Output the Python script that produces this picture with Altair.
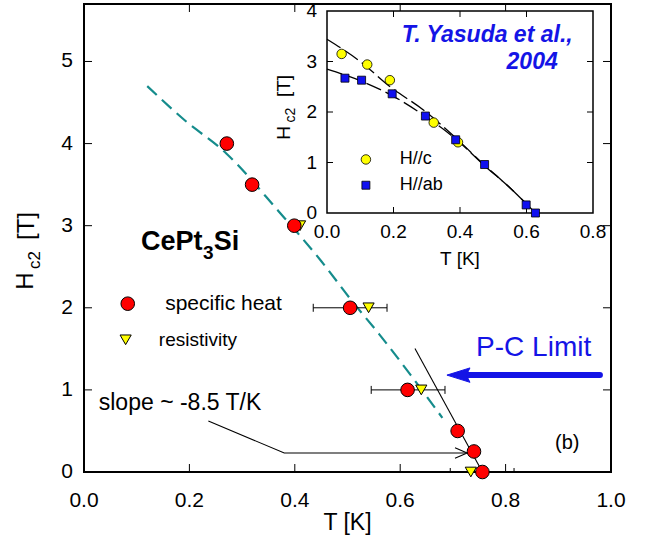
import altair as alt
import pandas as pd

FONT = "Liberation Sans"
BLUE = "#1414e6"

# ---------------- data: main panel ----------------
heat_T = [0.271, 0.319, 0.399, 0.505, 0.614, 0.709, 0.740, 0.756]
heat_H = [4.0, 3.5, 3.0, 2.0, 1.0, 0.5, 0.25, 0.0]
resist_T = [0.410, 0.540, 0.640, 0.734]
resist_H = [3.0, 2.0, 1.0, 0.0]
err_lo = [0.435, 0.545, 0.695]
err_hi = [0.575, 0.685, 0.816]
err_H = [2.0, 1.0, 0.0]
fit_T = [0.12, 0.19, 0.27, 0.37, 0.45, 0.51, 0.56, 0.62, 0.68]
fit_H = [4.70, 4.29, 3.88, 3.17, 2.57, 2.07, 1.68, 1.18, 0.66]
slope_T = [0.628, 0.756]
slope_H = [1.505, 0.0]
main_x_ticks = [0.0, 0.2, 0.4, 0.6, 0.8, 1.0]
main_y_ticks = [0, 1, 2, 3, 4, 5]

# ---------------- data: inset (Yasuda et al.) ----------------
c_T = [0.044, 0.121, 0.189, 0.321, 0.394]
c_H = [3.15, 2.94, 2.63, 1.79, 1.40]
ab_T = [0.054, 0.104, 0.196, 0.296, 0.387, 0.474, 0.599, 0.627]
ab_H = [2.67, 2.63, 2.36, 1.92, 1.45, 0.96, 0.16, 0.0]
cfit_T = [0.0, 0.10, 0.19, 0.29, 0.39, 0.47, 0.55, 0.627]
cfit_H = [3.44, 3.00, 2.50, 2.04, 1.47, 0.97, 0.50, 0.0]
abfit_T = [0.0, 0.10, 0.20, 0.29, 0.39, 0.47, 0.55, 0.627]
abfit_H = [2.85, 2.62, 2.31, 1.94, 1.45, 0.96, 0.50, 0.0]
inset_x_ticks = [0.0, 0.2, 0.4, 0.6, 0.8]
inset_y_ticks = [0, 1, 2, 3, 4]

# ---------------- layout ----------------
W, HT = 527, 468
IX0, IX1 = 243, 509      # inset x range (px inside plot)
IY0, IY1 = 209, 7        # inset y range (px inside plot)
TICK = 8
ITICK = 6

xs = alt.Scale(domain=[0, 1.0], nice=False, zero=False)
ys = alt.Scale(domain=[0, 5.7], nice=False, zero=False)
ixs = alt.Scale(domain=[0, 0.8], range=[IX0, IX1], nice=False, zero=False)
iys = alt.Scale(domain=[0, 4], range=[IY0, IY1], nice=False, zero=False)


def mX(f):
    return alt.X(f"{f}:Q", scale=xs, axis=None)


def mY(f):
    return alt.Y(f"{f}:Q", scale=ys, axis=None)


def iX(f):
    return alt.X(f"{f}:Q", scale=ixs, axis=None)


def iY(f):
    return alt.Y(f"{f}:Q", scale=iys, axis=None)


def note(text, T, H, size, scale="main", **kw):
    df = pd.DataFrame({"T": [T], "H": [H], "s": [text]})
    if scale == "main":
        enc = dict(x=mX("T"), y=mY("H"))
    else:
        enc = dict(x=iX("T"), y=iY("H"))
    style = dict(font=FONT, fontSize=size, color="black", align="left", baseline="middle")
    style.update(kw)
    return alt.Chart(df).mark_text(**style).encode(text="s:N", **enc)


def pixel_text(text, x, y, size, **kw):
    df = pd.DataFrame({"s": [text]})
    style = dict(font=FONT, fontSize=size, color="black", align="center", baseline="middle")
    style.update(kw)
    return alt.Chart(df).mark_text(**style).encode(
        x=alt.value(x), y=alt.value(y), text="s:N")


# ---------------- main panel layers ----------------
fit = alt.Chart(pd.DataFrame({"T": fit_T, "H": fit_H})).mark_line(
    color="#158c8c", strokeWidth=2.2, strokeDash=[13, 7], interpolate="monotone"
).encode(x=mX("T"), y=mY("H"))

slope = alt.Chart(pd.DataFrame({"T": slope_T, "H": slope_H})).mark_line(
    color="black", strokeWidth=1.1
).encode(x=mX("T"), y=mY("H"))

err_df = pd.DataFrame({"lo": err_lo, "hi": err_hi, "H": err_H})
err_rule = alt.Chart(err_df).mark_rule(color="black", strokeWidth=1).encode(
    x=mX("lo"), x2="hi:Q", y=mY("H"))
caps_df = pd.DataFrame({"T": err_lo + err_hi, "H": err_H + err_H})
err_caps = alt.Chart(caps_df).mark_point(
    shape="M0,-1L0,1", size=64, stroke="black", strokeWidth=1, filled=False,
    opacity=1, clip=True
).encode(x=mX("T"), y=mY("H"))

# annotation arrow "slope ~ -8.5 T/K"
arr_df = pd.DataFrame({
    "T": [0.236, 0.380, 0.726, 0.704, 0.727, 0.704],
    "H": [0.62, 0.232, 0.232, 0.296, 0.232, 0.168],
    "g": ["a", "a", "a", "b", "b", "b"],
    "i": [0, 1, 2, 0, 1, 2],
})
arrow = alt.Chart(arr_df).mark_line(color="black", strokeWidth=1.1).encode(
    x=mX("T"), y=mY("H"), detail="g:N", order="i:Q")

# P-C limit arrow
pc_shaft = alt.Chart(pd.DataFrame({"T": [0.979], "T2": [0.715], "H": [1.18]})).mark_rule(
    color=BLUE, strokeWidth=6, strokeCap="round"
).encode(x=mX("T"), x2="T2:Q", y=mY("H"))
pc_head = alt.Chart(pd.DataFrame({"T": [0.716], "H": [1.18]})).mark_point(
    shape="M-1,0L0.6,-0.5L0.35,0L0.6,0.5Z", size=830, filled=True, fill=BLUE,
    stroke=BLUE, strokeWidth=1, opacity=1
).encode(x=mX("T"), y=mY("H"))

heat = alt.Chart(pd.DataFrame({"T": heat_T, "H": heat_H})).mark_point(
    shape="circle", size=185, filled=True, fill="#ff0000", stroke="black",
    strokeWidth=1, opacity=1
).encode(x=mX("T"), y=mY("H"))
resist = alt.Chart(pd.DataFrame({"T": resist_T, "H": resist_H})).mark_point(
    shape="triangle-down", size=125, filled=True, fill="#ffff00", stroke="black",
    strokeWidth=1, opacity=1
).encode(x=mX("T"), y=mY("H"))

# legend symbols (main)
leg_heat = alt.Chart(pd.DataFrame({"T": [0.083], "H": [2.05]})).mark_point(
    shape="circle", size=185, filled=True, fill="#ff0000", stroke="black",
    strokeWidth=1, opacity=1).encode(x=mX("T"), y=mY("H"))
leg_res = alt.Chart(pd.DataFrame({"T": [0.079], "H": [1.61]})).mark_point(
    shape="triangle-down", size=125, filled=True, fill="#ffff00", stroke="black",
    strokeWidth=1, opacity=1).encode(x=mX("T"), y=mY("H"))

main_notes = [
    note("CePt", 0.108, 2.70, 27, fontWeight="bold", baseline="alphabetic"),
    note("3", 0.226, 2.60, 19, fontWeight="bold", baseline="alphabetic"),
    note("Si", 0.246, 2.70, 27, fontWeight="bold", baseline="alphabetic"),
    note("specific heat", 0.154, 2.05, 21),
    note("resistivity", 0.142, 1.61, 19),
    note("slope ~ -8.5 T/K", 0.028, 0.84, 23),
    note("(b)", 0.917, 0.35, 20, align="center"),
    note("P-C Limit", 0.744, 1.51, 28, color=BLUE),
    # axis titles
    pixel_text("H", -58, 277, 24, angle=270),
    pixel_text("c2", -49, 256, 17, angle=270),
    pixel_text("[T]", -57, 222, 24, angle=270),
    pixel_text("T [K]", W / 2, 519, 23),
]

# tick labels
main_labels = [
    alt.Chart(pd.DataFrame({"v": main_x_ticks})).mark_text(
        font=FONT, fontSize=21, color="black", align="center", baseline="alphabetic"
    ).encode(x=mX("v"), y=alt.value(HT + 34.5), text=alt.Text("v:Q", format=".1f")),
    alt.Chart(pd.DataFrame({"v": main_y_ticks})).mark_text(
        font=FONT, fontSize=21, color="black", align="right", baseline="middle"
    ).encode(y=mY("v"), x=alt.value(-11), text=alt.Text("v:Q", format="d")),
]

# inward ticks on four sides of the main frame
mxt = pd.DataFrame({"v": main_x_ticks[1:-1]})
myt = pd.DataFrame({"v": main_y_ticks[1:]})
main_ticks = [
    alt.Chart(mxt).mark_rule(color="black", strokeWidth=1).encode(
        x=mX("v"), y=alt.value(HT), y2=alt.value(HT - TICK)),
    alt.Chart(mxt).mark_rule(color="black", strokeWidth=1).encode(
        x=mX("v"), y=alt.value(0), y2=alt.value(TICK)),
    alt.Chart(myt).mark_rule(color="black", strokeWidth=1).encode(
        y=mY("v"), x=alt.value(0), x2=alt.value(TICK)),
    alt.Chart(myt).mark_rule(color="black", strokeWidth=1).encode(
        y=mY("v"), x=alt.value(W - TICK), x2=alt.value(W)),
]

main = alt.layer(fit, *main_ticks, slope, err_rule, err_caps, arrow, pc_shaft, pc_head,
                 resist, heat, leg_res, leg_heat, *main_notes, *main_labels)

# ---------------- inset layers ----------------
box = alt.Chart(pd.DataFrame({"x0": [inset_x_ticks[0]], "x1": [inset_x_ticks[-1]],
                              "y0": [inset_y_ticks[0]], "y1": [inset_y_ticks[-1]]})).mark_rect(
    fill="white", stroke="black", strokeWidth=1.5
).encode(x=iX("x0"), x2="x1:Q", y=iY("y0"), y2="y1:Q")

ixt = pd.DataFrame({"v": inset_x_ticks[1:-1]})
iyt = pd.DataFrame({"v": inset_y_ticks[1:-1]})
inset_ticks = [
    alt.Chart(ixt).mark_rule(color="black", strokeWidth=1).encode(
        x=iX("v"), y=alt.value(IY0), y2=alt.value(IY0 - ITICK)),
    alt.Chart(ixt).mark_rule(color="black", strokeWidth=1).encode(
        x=iX("v"), y=alt.value(IY1), y2=alt.value(IY1 + ITICK)),
    alt.Chart(iyt).mark_rule(color="black", strokeWidth=1).encode(
        y=iY("v"), x=alt.value(IX0), x2=alt.value(IX0 + ITICK)),
    alt.Chart(iyt).mark_rule(color="black", strokeWidth=1).encode(
        y=iY("v"), x=alt.value(IX1 - ITICK), x2=alt.value(IX1)),
]

inset_labels = [
    alt.Chart(pd.DataFrame({"v": inset_x_ticks})).mark_text(
        font=FONT, fontSize=19, color="black", align="center", baseline="alphabetic"
    ).encode(x=iX("v"), y=alt.value(IY0 + 25), text=alt.Text("v:Q", format=".1f")),
    alt.Chart(pd.DataFrame({"v": inset_y_ticks})).mark_text(
        font=FONT, fontSize=19, color="black", align="right", baseline="middle"
    ).encode(y=iY("v"), x=alt.value(IX0 - 10), text=alt.Text("v:Q", format="d")),
]

cfit = alt.Chart(pd.DataFrame({"T": cfit_T, "H": cfit_H})).mark_line(
    color="black", strokeWidth=1.3, strokeDash=[16, 5], interpolate="monotone"
).encode(x=iX("T"), y=iY("H"))
abfit = alt.Chart(pd.DataFrame({"T": abfit_T, "H": abfit_H})).mark_line(
    color="black", strokeWidth=1.3, strokeDash=[16, 5], interpolate="monotone"
).encode(x=iX("T"), y=iY("H"))

c_pts = alt.Chart(pd.DataFrame({"T": c_T, "H": c_H})).mark_point(
    shape="circle", size=90, filled=True, fill="#ffff00", stroke="black",
    strokeWidth=0.8, opacity=1).encode(x=iX("T"), y=iY("H"))
ab_pts = alt.Chart(pd.DataFrame({"T": ab_T, "H": ab_H})).mark_point(
    shape="square", size=64, filled=True, fill="#1010f0", stroke="black",
    strokeWidth=0.8, opacity=1).encode(x=iX("T"), y=iY("H"))

ileg_c = alt.Chart(pd.DataFrame({"T": [0.117], "H": [1.06]})).mark_point(
    shape="circle", size=90, filled=True, fill="#ffff00", stroke="black",
    strokeWidth=0.8, opacity=1).encode(x=iX("T"), y=iY("H"))
ileg_ab = alt.Chart(pd.DataFrame({"T": [0.117], "H": [0.55]})).mark_point(
    shape="square", size=64, filled=True, fill="#1010f0", stroke="black",
    strokeWidth=0.8, opacity=1).encode(x=iX("T"), y=iY("H"))

inset_notes = [
    note("H//c", 0.219, 1.06, 18, scale="inset"),
    note("H//ab", 0.219, 0.55, 18, scale="inset"),
    note("T. Yasuda et al.,", 0.225, 3.52, 23, scale="inset", color=BLUE,
         fontWeight="bold", fontStyle="italic"),
    note("2004", 0.694, 3.00, 23, scale="inset", color=BLUE, align="right",
         fontWeight="bold", fontStyle="italic"),
    pixel_text("H", 200, 129, 19, angle=270),
    pixel_text("c2", 207, 111, 14, angle=270),
    pixel_text("[T]", 200, 82, 19, angle=270),
    pixel_text("T [K]", (IX0 + IX1) / 2, 255, 19),
]

inset = alt.layer(box, *inset_ticks, cfit, abfit, c_pts, ab_pts, ileg_c, ileg_ab,
                  *inset_notes, *inset_labels)

chart = alt.layer(main, inset).resolve_scale(
    x="independent", y="independent"
).properties(
    width=W, height=HT,
    autosize=alt.AutoSizeParams(type="none"),
    padding={"left": 84, "top": 4, "right": 40, "bottom": 72},
).configure_view(
    stroke="black", strokeWidth=2
)

chart.save("out.html", embed_options={"renderer": "svg", "actions": False})
